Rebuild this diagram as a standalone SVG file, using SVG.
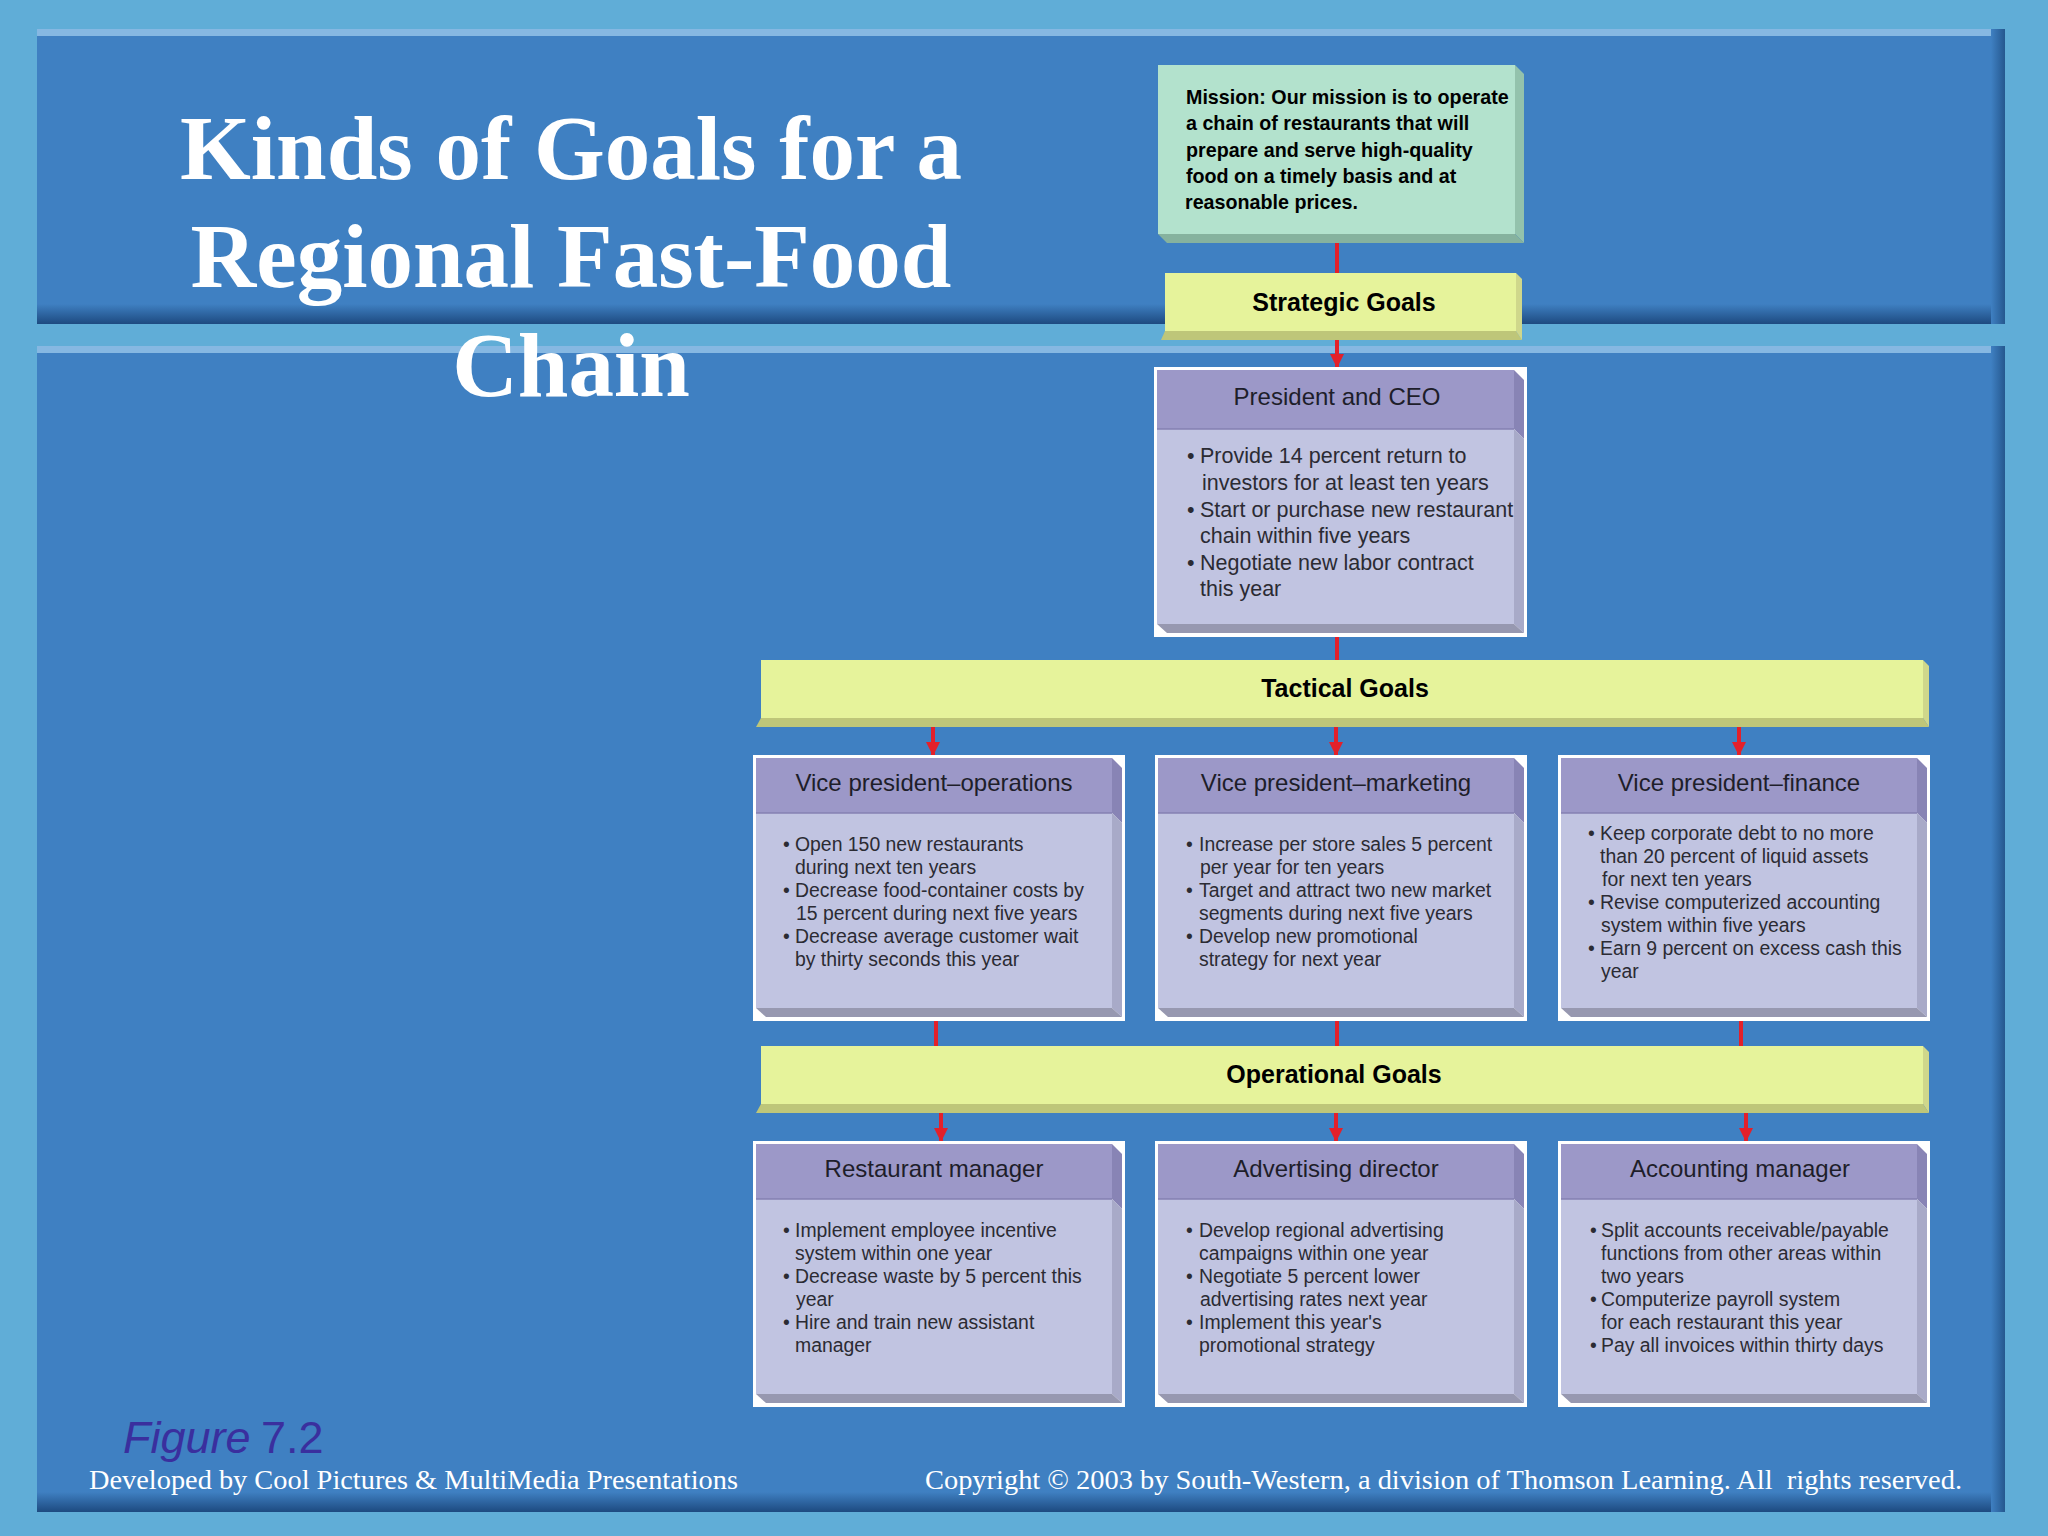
<svg xmlns="http://www.w3.org/2000/svg" xmlns:xlink="http://www.w3.org/1999/xlink" width="2048" height="1536" viewBox="0 0 2048 1536">
<style>
.hdr{font-family:"Liberation Sans",Arial,sans-serif;font-size:24px;fill:#1e1e2a;text-anchor:middle}
.body{font-family:"Liberation Sans",Arial,sans-serif;font-size:19.4px;fill:#2b2b33}
.pbody{font-family:"Liberation Sans",Arial,sans-serif;font-size:21.5px;fill:#2b2b33}
.bar{font-family:"Liberation Sans",Arial,sans-serif;font-size:25px;font-weight:bold;fill:#000;text-anchor:middle}
.mission{font-family:"Liberation Sans",Arial,sans-serif;font-size:19.7px;font-weight:bold;fill:#000}
.title{font-family:"Liberation Serif","Times New Roman",serif;font-size:91px;font-weight:bold;fill:#fff;text-anchor:middle}
.foot{font-family:"Liberation Serif","Times New Roman",serif;font-size:28px;fill:#fff}
.fig{font-family:"Liberation Sans",Arial,sans-serif;font-size:45px;fill:#3a2f9e}
.conn{stroke:#e3202a;stroke-width:4;fill:none}
.yface{fill:#e6f39b}
.ybot{fill:#bec679}
.yright{fill:#cfd78b}
</style>
<defs>
<linearGradient id="panelShadow" x1="0" y1="0" x2="0" y2="1">
<stop offset="0" stop-color="#3f80c2"/>
<stop offset="1" stop-color="#1d4a80"/>
</linearGradient>
<linearGradient id="panelRight" x1="0" y1="0" x2="1" y2="0">
<stop offset="0" stop-color="#3f80c2"/>
<stop offset="1" stop-color="#25588f"/>
</linearGradient>
<marker id="arrow" viewBox="0 0 10 10" refX="10" refY="5" markerWidth="14" markerHeight="14" markerUnits="userSpaceOnUse" orient="auto">
<path d="M0,0 L10,5 L0,10 z" fill="#e3202a"/>
</marker>
<g id="boxShape">
<rect x="0" y="0" width="372" height="266" fill="#ffffff"/>
<rect x="3" y="3" width="356" height="55" fill="#9c98c8"/>
<rect x="3" y="58" width="356" height="195" fill="#c1c4e1"/>
<line x1="3" y1="58" x2="359" y2="58" stroke="#8581b2" stroke-width="1.5"/>
<polygon points="359,3 369,13 369,68 359,58" fill="#8884b5"/>
<polygon points="359,58 369,68 369,262 359,253" fill="#a8aac8"/>
<polygon points="3,253 359,253 369,262 13,262" fill="#9798b0"/>
</g>
</defs>

<!-- background -->
<rect x="0" y="0" width="2048" height="1536" fill="#5aa8d4"/>
<rect x="0" y="0" width="2048" height="1536" fill="#6cb6dc" opacity="0.35"/>

<!-- top panel -->
<rect x="37" y="29" width="1968" height="295" fill="#3f80c2"/>
<rect x="37" y="29" width="1968" height="7" fill="#86b8e2"/>
<rect x="37" y="304" width="1968" height="20" fill="url(#panelShadow)"/>
<rect x="1991" y="29" width="14" height="295" fill="url(#panelRight)"/>

<!-- bottom panel -->
<rect x="37" y="346" width="1968" height="1166" fill="#3f80c2"/>
<rect x="37" y="346" width="1968" height="7" fill="#86b8e2"/>
<rect x="37" y="1492" width="1968" height="20" fill="url(#panelShadow)"/>
<rect x="1991" y="346" width="14" height="1166" fill="url(#panelRight)"/>

<!-- title -->
<g id="title">
<text class="title" x="571" y="179">Kinds of Goals for a</text>
<text class="title" x="571" y="287">Regional Fast-Food</text>
<text class="title" x="571" y="396">Chain</text>
</g>

<!-- connectors -->
<g id="connectors">
<line class="conn" x1="1337" y1="243" x2="1337" y2="273"/>
<line class="conn" x1="1337" y1="340" x2="1337" y2="368" marker-end="url(#arrow)"/>
<line class="conn" x1="1337" y1="634" x2="1337" y2="660"/>
<line class="conn" x1="933" y1="727" x2="933" y2="756" marker-end="url(#arrow)"/>
<line class="conn" x1="1336" y1="727" x2="1336" y2="756" marker-end="url(#arrow)"/>
<line class="conn" x1="1739" y1="727" x2="1739" y2="756" marker-end="url(#arrow)"/>
<line class="conn" x1="936" y1="1017" x2="936" y2="1046"/>
<line class="conn" x1="1337" y1="1017" x2="1337" y2="1046"/>
<line class="conn" x1="1741" y1="1017" x2="1741" y2="1046"/>
<line class="conn" x1="941" y1="1113" x2="941" y2="1142" marker-end="url(#arrow)"/>
<line class="conn" x1="1336" y1="1113" x2="1336" y2="1142" marker-end="url(#arrow)"/>
<line class="conn" x1="1746" y1="1113" x2="1746" y2="1142" marker-end="url(#arrow)"/>
</g>

<!-- mission -->
<g id="mission">
<rect x="1158" y="65" width="357" height="169" fill="#b3e2cd"/>
<polygon points="1515,65 1524,74 1524,243 1515,234" fill="#93c2ac"/>
<polygon points="1158,234 1515,234 1524,243 1167,243" fill="#86b29e"/>
<text class="mission">
<tspan x="1186" y="104">Mission: Our mission is to operate</tspan>
<tspan x="1186" y="130">a chain of restaurants that will</tspan>
<tspan x="1186" y="157">prepare and serve high-quality</tspan>
<tspan x="1186" y="183">food on a timely basis and at</tspan>
<tspan x="1185" y="209">reasonable prices.</tspan>
</text>
</g>

<!-- strategic goals bar -->
<g id="strategic-goals">
<polygon class="ybot" points="1165,331 1516,331 1522,340 1161,340"/>
<polygon class="yright" points="1516,273 1522,279 1522,340 1516,331"/>
<rect class="yface" x="1165" y="273" width="351" height="58"/>
<text class="bar" x="1344" y="311">Strategic Goals</text>
</g>

<!-- president -->
<g id="president" transform="translate(1154,367)">
<rect x="0" y="0" width="373" height="270" fill="#ffffff"/>
<rect x="3" y="3" width="357" height="59" fill="#9c98c8"/>
<rect x="3" y="62" width="357" height="195" fill="#c1c4e1"/>
<line x1="3" y1="62" x2="360" y2="62" stroke="#8581b2" stroke-width="1.5"/>
<polygon points="360,3 370,13 370,72 360,62" fill="#8884b5"/>
<polygon points="360,62 370,72 370,266 360,257" fill="#a8aac8"/>
<polygon points="3,257 360,257 370,266 13,266" fill="#9798b0"/>
<text class="hdr" x="183" y="38">President and CEO</text>
<text class="pbody">
<tspan x="33" y="96">•</tspan><tspan x="46">Provide 14 percent return to</tspan>
<tspan x="48" y="123">investors for at least ten years</tspan>
<tspan x="33" y="150">•</tspan><tspan x="46">Start or purchase new restaurant</tspan>
<tspan x="46" y="176">chain within five years</tspan>
<tspan x="33" y="203">•</tspan><tspan x="46">Negotiate new labor contract</tspan>
<tspan x="46" y="229">this year</tspan>
</text>
</g>

<!-- tactical goals bar -->
<g id="tactical-goals">
<polygon class="ybot" points="761,718 1923,718 1929,727 756,727"/>
<polygon class="yright" points="1923,660 1929,666 1929,727 1923,718"/>
<rect class="yface" x="761" y="660" width="1162" height="58"/>
<text class="bar" x="1345" y="697">Tactical Goals</text>
</g>

<!-- VP operations -->
<g id="vp-operations" transform="translate(753,755)">
<use xlink:href="#boxShape"/>
<text class="hdr" x="181" y="36">Vice president–operations</text>
<text class="body">
<tspan x="30" y="96">•</tspan><tspan x="42">Open 150 new restaurants</tspan>
<tspan x="42" y="119">during next ten years</tspan>
<tspan x="30" y="142">•</tspan><tspan x="42">Decrease food-container costs by</tspan>
<tspan x="43" y="165">15 percent during next five years</tspan>
<tspan x="30" y="188">•</tspan><tspan x="42">Decrease average customer wait</tspan>
<tspan x="42" y="211">by thirty seconds this year</tspan>
</text>
</g>

<!-- VP marketing -->
<g id="vp-marketing" transform="translate(1155,755)">
<use xlink:href="#boxShape"/>
<text class="hdr" x="181" y="36">Vice president–marketing</text>
<text class="body">
<tspan x="31" y="96">•</tspan><tspan x="44">Increase per store sales 5 percent</tspan>
<tspan x="45" y="119">per year for ten years</tspan>
<tspan x="31" y="142">•</tspan><tspan x="44">Target and attract two new market</tspan>
<tspan x="44" y="165">segments during next five years</tspan>
<tspan x="31" y="188">•</tspan><tspan x="44">Develop new promotional</tspan>
<tspan x="44" y="211">strategy for next year</tspan>
</text>
</g>

<!-- VP finance -->
<g id="vp-finance" transform="translate(1558,755)">
<use xlink:href="#boxShape"/>
<text class="hdr" x="181" y="36">Vice president–finance</text>
<text class="body">
<tspan x="30" y="85">•</tspan><tspan x="42">Keep corporate debt to no more</tspan>
<tspan x="42" y="108">than 20 percent of liquid assets</tspan>
<tspan x="44" y="131">for next ten years</tspan>
<tspan x="30" y="154">•</tspan><tspan x="42">Revise computerized accounting</tspan>
<tspan x="43" y="177">system within five years</tspan>
<tspan x="30" y="200">•</tspan><tspan x="42">Earn 9 percent on excess cash this</tspan>
<tspan x="43" y="223">year</tspan>
</text>
</g>

<!-- operational goals bar -->
<g id="operational-goals">
<polygon class="ybot" points="761,1104 1923,1104 1929,1113 756,1113"/>
<polygon class="yright" points="1923,1046 1929,1052 1929,1113 1923,1104"/>
<rect class="yface" x="761" y="1046" width="1162" height="58"/>
<text class="bar" x="1334" y="1083">Operational Goals</text>
</g>

<!-- Restaurant manager -->
<g id="restaurant-manager" transform="translate(753,1141)">
<use xlink:href="#boxShape"/>
<text class="hdr" x="181" y="36">Restaurant manager</text>
<text class="body">
<tspan x="30" y="96">•</tspan><tspan x="42">Implement employee incentive</tspan>
<tspan x="42" y="119">system within one year</tspan>
<tspan x="30" y="142">•</tspan><tspan x="42">Decrease waste by 5 percent this</tspan>
<tspan x="43" y="165">year</tspan>
<tspan x="30" y="188">•</tspan><tspan x="42">Hire and train new assistant</tspan>
<tspan x="42" y="211">manager</tspan>
</text>
</g>

<!-- Advertising director -->
<g id="advertising-director" transform="translate(1155,1141)">
<use xlink:href="#boxShape"/>
<text class="hdr" x="181" y="36">Advertising director</text>
<text class="body">
<tspan x="31" y="96">•</tspan><tspan x="44">Develop regional advertising</tspan>
<tspan x="44" y="119">campaigns within one year</tspan>
<tspan x="31" y="142">•</tspan><tspan x="44">Negotiate 5 percent lower</tspan>
<tspan x="45" y="165">advertising rates next year</tspan>
<tspan x="31" y="188">•</tspan><tspan x="44">Implement this year's</tspan>
<tspan x="44" y="211">promotional strategy</tspan>
</text>
</g>

<!-- Accounting manager -->
<g id="accounting-manager" transform="translate(1558,1141)">
<use xlink:href="#boxShape"/>
<text class="hdr" x="182" y="36">Accounting manager</text>
<text class="body">
<tspan x="32" y="96">•</tspan><tspan x="43">Split accounts receivable/payable</tspan>
<tspan x="43" y="119">functions from other areas within</tspan>
<tspan x="43" y="142">two years</tspan>
<tspan x="32" y="165">•</tspan><tspan x="43">Computerize payroll system</tspan>
<tspan x="43" y="188">for each restaurant this year</tspan>
<tspan x="32" y="211">•</tspan><tspan x="43">Pay all invoices within thirty days</tspan>
</text>
</g>

<!-- footer -->
<g id="footer">
<text class="fig" x="123" y="1453"><tspan font-style="italic">Figure</tspan><tspan x="261">7.2</tspan></text>
<text class="foot" x="89" y="1489" textLength="649" lengthAdjust="spacingAndGlyphs">Developed by Cool Pictures &amp; MultiMedia Presentations</text>
<text class="foot" x="925" y="1489" textLength="1037" lengthAdjust="spacingAndGlyphs" xml:space="preserve">Copyright © 2003 by South-Western, a division of Thomson Learning. All  rights reserved.</text>
</g>
</svg>
